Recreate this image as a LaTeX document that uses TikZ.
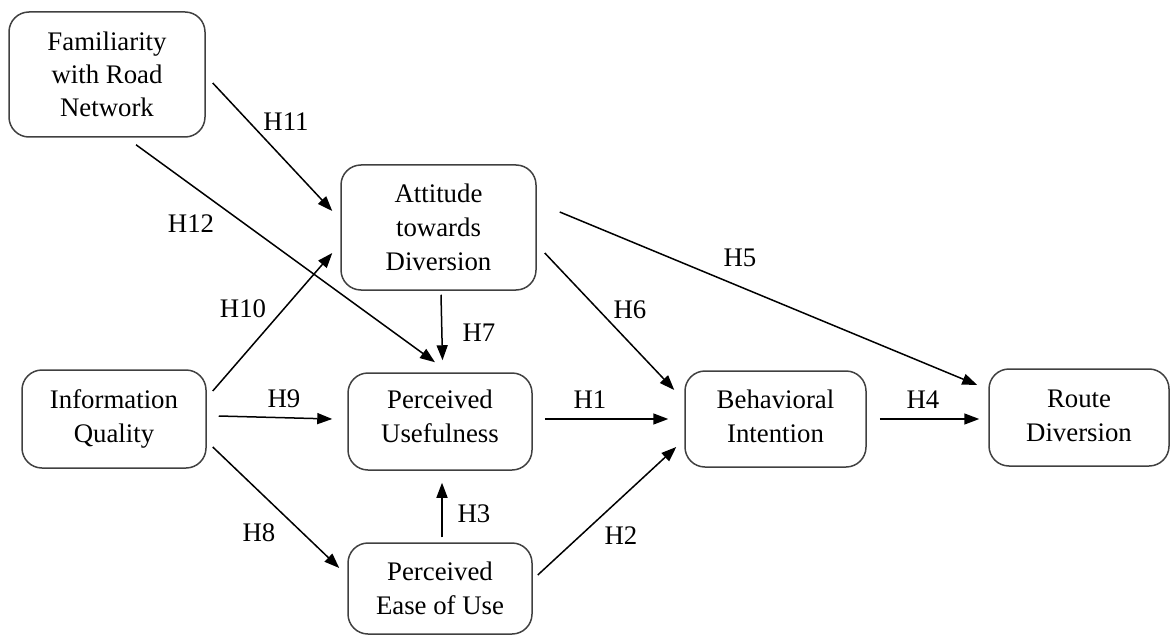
\documentclass[tikz,border=0pt]{standalone}
\usepackage{fontspec}
\setmainfont{Liberation Serif}
\usetikzlibrary{arrows.meta}
\begin{document}
\begin{tikzpicture}[x=0.5pt,y=-0.5pt,
  construct/.style={draw=black!75, line width=0.75pt, rounded corners=10pt,
    align=center, inner sep=0pt, font=\fontsize{13.4}{17}\selectfont},
  path/.style={draw=black, line width=0.75pt,
    -{Triangle[length=7.5pt,width=5.5pt]}},
  hlabel/.style={font=\fontsize{13.4}{15}\selectfont, inner sep=0pt}]
\useasboundingbox (0,0) rectangle (1170,636);

% constructs
\node[construct, minimum width=98pt, minimum height=62.5pt,
  font=\fontsize{13.4}{16.5}\selectfont] (fam) at (107,74.5)
  {Familiarity\\with Road\\Network};
\node[construct, minimum width=97.5pt, minimum height=62.5pt] (att) at (438.5,227.5)
  {Attitude\\towards\\Diversion};
\node[construct, minimum width=92pt, minimum height=49pt] (iq) at (114,419)
  {Information\\Quality};
\node[construct, minimum width=92pt, minimum height=48.5pt, text depth=5pt] (pu) at (440,421.5)
  {Perceived\\Usefulness};
\node[construct, minimum width=92pt, minimum height=45.5pt] (peou) at (440,588.5)
  {Perceived\\Ease of Use};
\node[construct, minimum width=90.5pt, minimum height=48pt, text depth=3pt] (bi) at (775.5,419)
  {Behavioral\\Intention};
\node[construct, minimum width=90pt, minimum height=48.5pt, text depth=2pt] (rd) at (1079,417.5)
  {Route\\Diversion};

% hypothesised paths
\draw[path] ([shift={(7,8.5)}]fam.east) -- ([shift={(-8,-16.5)}]att.west);
\draw[path] ([shift={(29,7)}]fam.south) -- ([shift={(-5,-10)}]pu.north);
\draw[path] ([shift={(6,-28)}]iq.east) -- ([shift={(-8,25.5)}]att.west);
\draw[path] ([shift={(12,-3)}]iq.east) -- ([shift={(-15,-2.5)}]pu.west);
\draw[path] ([shift={(6,28)}]iq.east) -- ([shift={(-8,-20.5)}]peou.west);
\draw[path] ([shift={(2.5,4)}]att.south) -- ([shift={(2.5,-12)}]pu.north);
\draw[path] ([shift={(2,-5)}]peou.north) -- ([shift={(2,12)}]pu.south);
\draw[path] ([shift={(12,-2.5)}]pu.east) -- ([shift={(-16,0)}]bi.west);
\draw[path] ([shift={(5,-13.5)}]peou.east) -- ([shift={(-8,28)}]bi.west);
\draw[path] ([shift={(8,25.5)}]att.east) -- ([shift={(-10,-29)}]bi.west);
\draw[path] ([shift={(23,-15.5)}]att.east) -- ([shift={(-11,-32.5)}]rd.west);
\draw[path] ([shift={(13,0)}]bi.east) -- ([shift={(-9,1.5)}]rd.west);

% path labels
\node[hlabel] (h11) at (286,122) {H11};
\node[hlabel] (h12) at (191,224) {H12};
\node[hlabel] (h10) at (243,309) {H10};
\node[hlabel] (h9)  at (284,399) {H9};
\node[hlabel] (h8)  at (259,533) {H8};
\node[hlabel] (h7)  at (479,333) {H7};
\node[hlabel] (h3)  at (474,514) {H3};
\node[hlabel] (h2)  at (621,536) {H2};
\node[hlabel] (h1)  at (590,400) {H1};
\node[hlabel] (h6)  at (630,310) {H6};
\node[hlabel] (h5)  at (740,258) {H5};
\node[hlabel] (h4)  at (923,400) {H4};
\end{tikzpicture}
\end{document}
